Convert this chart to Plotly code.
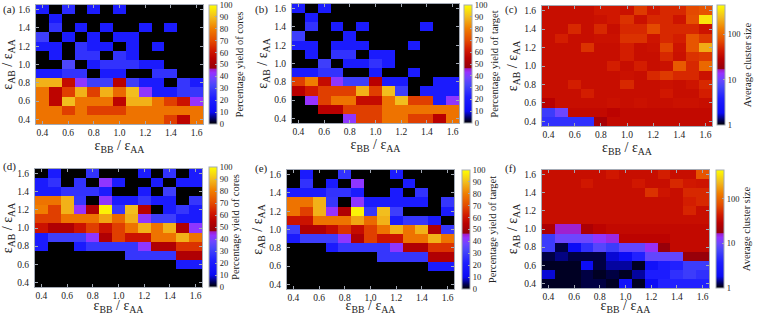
import plotly.graph_objects as go
import numpy as np

W, H = 761, 315

eps_bb = [0.4, 0.5, 0.6, 0.7, 0.8, 0.9, 1.0, 1.1, 1.2, 1.3, 1.4, 1.5, 1.6]
eps_ab = [1.6, 1.5, 1.4, 1.3, 1.2, 1.1, 1.0, 0.9, 0.8, 0.7, 0.6, 0.5, 0.4]
axis_ticks = [0.4, 0.6, 0.8, 1.0, 1.2, 1.4, 1.6]
yield_ticks = [0, 10, 20, 30, 40, 50, 60, 70, 80, 90, 100]
size_ticks = [1, 10, 100]

# (a) percentage yield of cores (rows: eps_AB 1.6 -> 0.4)
yield_cores_a = [
    [20, 0, 25, 0, 20, 0, 20, 0, 0, 0, 0, 0, 0],
    [0, 20, 0, 0, 0, 0, 0, 0, 0, 0, 0, 0, 0],
    [0, 27, 0, 20, 0, 20, 0, 0, 20, 0, 20, 0, 0],
    [30, 0, 20, 0, 20, 0, 20, 20, 0, 0, 0, 0, 0],
    [20, 20, 0, 27, 20, 20, 0, 20, 0, 20, 0, 0, 0],
    [0, 20, 0, 27, 27, 0, 27, 20, 0, 0, 0, 0, 0],
    [0, 0, 33, 0, 20, 27, 27, 27, 20, 20, 0, 0, 0],
    [20, 20, 27, 27, 0, 20, 20, 0, 0, 27, 27, 0, 0],
    [88, 88, 58, 42, 30, 30, 55, 30, 20, 20, 0, 28, 20],
    [78, 56, 68, 88, 68, 88, 76, 90, 42, 20, 20, 28, 28],
    [78, 56, 90, 78, 78, 78, 56, 88, 88, 78, 68, 60, 43],
    [78, 78, 68, 78, 68, 68, 68, 78, 78, 78, 78, 78, 78],
    [78, 78, 78, 78, 78, 78, 78, 78, 78, 78, 68, 56, 78],
]

# (b) percentage yield of target
yield_target_b = [
    [20, 0, 20, 0, 0, 0, 0, 0, 0, 0, 0, 0, 0],
    [0, 20, 0, 0, 0, 0, 0, 0, 0, 0, 0, 0, 0],
    [0, 27, 0, 20, 0, 20, 0, 0, 0, 0, 20, 0, 0],
    [30, 0, 0, 0, 20, 0, 0, 0, 0, 0, 0, 0, 0],
    [20, 20, 0, 20, 20, 20, 0, 0, 0, 20, 0, 0, 0],
    [0, 20, 0, 27, 27, 0, 20, 20, 0, 0, 0, 0, 0],
    [0, 0, 30, 0, 20, 20, 27, 20, 0, 0, 0, 0, 0],
    [20, 20, 27, 27, 0, 0, 20, 0, 0, 20, 0, 0, 0],
    [68, 80, 58, 42, 30, 30, 55, 20, 20, 0, 0, 20, 20],
    [55, 62, 68, 68, 68, 88, 68, 90, 30, 0, 20, 20, 20],
    [0, 43, 68, 78, 78, 58, 58, 78, 90, 68, 68, 20, 42],
    [0, 0, 55, 55, 68, 68, 68, 78, 78, 78, 78, 78, 78],
    [0, 0, 0, 0, 42, 68, 68, 78, 78, 68, 68, 55, 78],
]

# (c) average cluster size
cluster_size_c = [
    [36, 36, 36, 36, 42, 42, 38, 60, 42, 50, 50, 70, 80],
    [36, 36, 36, 36, 38, 42, 55, 38, 50, 50, 40, 75, 350],
    [36, 36, 50, 36, 50, 36, 50, 50, 70, 50, 50, 50, 40],
    [36, 45, 36, 36, 38, 38, 55, 55, 40, 50, 45, 80, 60],
    [36, 36, 36, 55, 36, 36, 45, 36, 38, 65, 40, 80, 200],
    [36, 36, 36, 36, 36, 36, 45, 36, 36, 50, 38, 55, 60],
    [36, 36, 36, 36, 36, 45, 36, 45, 36, 38, 85, 50, 100],
    [36, 36, 36, 36, 36, 36, 38, 36, 50, 60, 50, 50, 38],
    [36, 36, 45, 36, 36, 36, 50, 36, 36, 38, 36, 40, 50],
    [36, 36, 36, 45, 36, 36, 36, 36, 36, 42, 36, 36, 45],
    [28, 36, 36, 36, 36, 38, 36, 38, 36, 36, 38, 38, 36],
    [6, 10, 33, 33, 33, 30, 33, 33, 33, 33, 33, 33, 33],
    [5, 5, 5, 5, 22, 33, 33, 33, 33, 33, 33, 33, 33],
]

# (d) percentage yield of cores
yield_cores_d = [
    [0, 20, 0, 0, 27, 0, 0, 0, 20, 0, 27, 0, 20],
    [20, 27, 0, 27, 0, 42, 20, 0, 0, 20, 0, 20, 20],
    [20, 20, 27, 27, 27, 20, 0, 0, 20, 0, 30, 0, 0],
    [78, 78, 88, 28, 0, 42, 20, 20, 28, 20, 20, 0, 28],
    [80, 68, 88, 43, 53, 98, 28, 90, 55, 0, 20, 28, 20],
    [68, 68, 78, 78, 78, 86, 76, 88, 42, 30, 30, 20, 20],
    [60, 53, 53, 60, 68, 60, 68, 78, 88, 78, 88, 53, 42],
    [20, 30, 30, 30, 42, 53, 68, 60, 60, 78, 78, 88, 78],
    [20, 0, 0, 20, 28, 28, 28, 28, 42, 53, 53, 66, 66],
    [0, 0, 0, 0, 0, 0, 0, 28, 28, 28, 28, 53, 53],
    [0, 0, 0, 0, 0, 0, 0, 0, 0, 0, 0, 20, 20],
    [0, 0, 0, 0, 0, 0, 0, 0, 0, 0, 0, 0, 0],
    [0, 0, 0, 0, 0, 0, 0, 0, 0, 0, 0, 0, 0],
]

# (e) percentage yield of target
yield_target_e = [
    [0, 20, 0, 0, 27, 0, 0, 0, 20, 0, 0, 0, 0],
    [0, 27, 0, 20, 0, 42, 0, 0, 0, 20, 0, 0, 0],
    [20, 20, 20, 27, 27, 20, 0, 0, 20, 0, 27, 0, 0],
    [78, 78, 88, 28, 0, 42, 20, 20, 20, 20, 20, 0, 28],
    [78, 68, 88, 43, 53, 98, 28, 90, 30, 0, 0, 0, 20],
    [60, 60, 78, 78, 78, 86, 76, 88, 20, 28, 28, 20, 0],
    [30, 53, 53, 58, 66, 58, 68, 78, 88, 78, 88, 53, 28],
    [20, 30, 30, 30, 42, 53, 68, 60, 60, 78, 78, 88, 78],
    [0, 0, 0, 20, 28, 28, 28, 28, 42, 53, 53, 66, 66],
    [0, 0, 0, 0, 0, 0, 0, 28, 28, 28, 28, 53, 53],
    [0, 0, 0, 0, 0, 0, 0, 0, 0, 0, 0, 20, 20],
    [0, 0, 0, 0, 0, 0, 0, 0, 0, 0, 0, 0, 0],
    [0, 0, 0, 0, 0, 0, 0, 0, 0, 0, 0, 0, 0],
]

# (f) average cluster size
cluster_size_f = [
    [36, 36, 36, 36, 36, 42, 36, 36, 36, 45, 36, 36, 80],
    [36, 36, 36, 42, 36, 36, 36, 42, 36, 36, 50, 42, 40],
    [36, 36, 36, 36, 36, 36, 36, 36, 55, 40, 36, 50, 50],
    [36, 36, 36, 36, 36, 36, 36, 36, 36, 36, 36, 45, 50],
    [36, 36, 36, 36, 36, 36, 36, 36, 36, 36, 36, 48, 36],
    [36, 36, 36, 36, 36, 36, 36, 36, 36, 36, 36, 36, 36],
    [24, 16, 16, 24, 30, 33, 33, 33, 33, 33, 33, 33, 33],
    [6, 10, 10, 10, 13, 15, 30, 30, 30, 30, 33, 33, 33],
    [6, 1.2, 2, 5, 8, 6, 9, 9, 14, 18, 33, 33, 33],
    [1.2, 1.4, 1.2, 1.2, 1.2, 1.7, 2, 4, 9, 9, 9, 18, 18],
    [1.1, 1.1, 1.1, 2, 1.2, 1.5, 1.5, 1.1, 2.5, 3.5, 4, 6, 6],
    [1.7, 1.1, 1.1, 1.2, 1.1, 1.2, 1.1, 1.5, 3.5, 3.5, 5, 6, 5],
    [1.1, 1.1, 1.1, 1.2, 1.2, 1.1, 2.5, 1.1, 2, 4, 4, 4, 4],
]

cmap = [
    [0.00, "rgb(0,0,0)"],
    [0.04, "rgb(0,0,90)"],
    [0.10, "rgb(10,10,245)"],
    [0.22, "rgb(30,30,255)"],
    [0.32, "rgb(70,70,250)"],
    [0.38, "rgb(110,70,255)"],
    [0.43, "rgb(150,50,255)"],
    [0.46, "rgb(160,30,200)"],
    [0.47, "rgb(150,0,10)"],
    [0.55, "rgb(185,0,0)"],
    [0.62, "rgb(210,25,0)"],
    [0.70, "rgb(228,75,0)"],
    [0.80, "rgb(240,125,0)"],
    [0.90, "rgb(242,190,30)"],
    [1.00, "rgb(255,255,0)"],
]

FONT = "Liberation Serif, Times New Roman, serif"
FRAME = "#a3a9b4"
LOGMAX = 2.64

panels = [
    dict(lab="(a)", z=yield_cores_a, log=False, title="Percentage yield of cores",
         box=(36, 203, 5, 124), cb=(209, 5, 124), lab_xy=(1, 1), xs=2),
    dict(lab="(b)", z=yield_target_b, log=False, title="Percentage yield of target",
         box=(292, 459, 4, 123), cb=(464, 5, 123), lab_xy=(253, 1), xs=2),
    dict(lab="(c)", z=cluster_size_c, log=True, title="Average cluster size",
         box=(542, 712, 6, 126), cb=(717, 5, 125), lab_xy=(503, 1), xs=2),
    dict(lab="(d)", z=yield_cores_d, log=False, title="Percentage yield of cores",
         box=(35, 202, 169, 287), cb=(209, 167, 287), lab_xy=(1, 158), xs=4),
    dict(lab="(e)", z=yield_target_e, log=False, title="Percentage yield of target",
         box=(287, 454, 170, 289), cb=(462, 170, 289), lab_xy=(253, 160), xs=3),
    dict(lab="(f)", z=cluster_size_f, log=True, title="Average cluster size",
         box=(542, 709, 170, 288), cb=(716, 170, 288), lab_xy=(503, 160), xs=3),
]

fig = go.Figure()
annotations = []
for i, p in enumerate(panels, start=1):
    x0, x1, y0, y1 = p["box"]
    xa = "xaxis" if i == 1 else f"xaxis{i}"
    ya = "yaxis" if i == 1 else f"yaxis{i}"
    xr = "x" if i == 1 else f"x{i}"
    yr = "y" if i == 1 else f"y{i}"
    cbx, cby0, cby1 = p["cb"]
    if p["log"]:
        z = np.log10(np.array(p["z"], dtype=float))
        zmin, zmax = 0, LOGMAX
        tv = [float(np.log10(v)) for v in size_ticks]
        tt = [str(v) for v in size_ticks]
    else:
        z = np.array(p["z"], dtype=float)
        zmin, zmax = 0, 100
        tv = [v if v < 100 else 99.95 for v in yield_ticks]
        tt = [str(v) for v in yield_ticks]
    fig.add_trace(go.Heatmap(
        x=eps_bb, y=eps_ab, z=z, xaxis=xr, yaxis=yr,
        zmin=zmin, zmax=zmax, colorscale=cmap,
        colorbar=dict(
            x=cbx / W, xanchor="left", xref="paper",
            y=1 - (cby0 + cby1) / 2 / H, yanchor="middle", yref="paper",
            lenmode="pixels", len=cby1 - cby0,
            thicknessmode="pixels", thickness=8,
            xpad=0, ypad=0,
            outlinecolor=FRAME, outlinewidth=1,
            tickmode="array", tickvals=tv, ticktext=tt,
            ticks="inside", ticklen=2, tickcolor=FRAME,
            tickfont=dict(family=FONT, size=8.5, color="#222"),
            title=dict(text=p["title"], side="right",
                       font=dict(family=FONT, size=10.5, color="#222")),
        ),
        hoverinfo="skip",
    ))
    fig.layout[xa] = dict(
        domain=[x0 / W, x1 / W], anchor=yr, range=[0.35, 1.65],
        tickmode="array", tickvals=axis_ticks, tickformat=".1f",
        ticks="inside", ticklen=3, tickcolor=FRAME, mirror="ticks",
        showline=True, linecolor=FRAME, linewidth=1, showgrid=False, zeroline=False,
        tickfont=dict(family=FONT, size=9.5, color="#222"),
        automargin=False,
        title=dict(text="ε<sub>BB</sub> / ε<sub>AA</sub>", standoff=p["xs"],
                   font=dict(family=FONT, size=14, color="#222")),
        fixedrange=True,
    )
    fig.layout[ya] = dict(
        domain=[1 - y1 / H, 1 - y0 / H], anchor=xr, range=[0.35, 1.65],
        tickmode="array", tickvals=axis_ticks, tickformat=".1f",
        ticks="inside", ticklen=3, tickcolor=FRAME, mirror="ticks",
        showline=True, linecolor=FRAME, linewidth=1, showgrid=False, zeroline=False,
        tickfont=dict(family=FONT, size=9.5, color="#222"),
        ticklabelstandoff=3, automargin=False,
        title=dict(text="ε<sub>AB</sub> / ε<sub>AA</sub>", standoff=3,
                   font=dict(family=FONT, size=14, color="#222")),
        fixedrange=True,
    )
    lx, ly = p["lab_xy"]
    annotations.append(dict(
        text=p["lab"], x=lx / W, y=1 - ly / H, xref="paper", yref="paper",
        xanchor="left", yanchor="top", showarrow=False,
        font=dict(family=FONT, size=11, color="#222"),
    ))

fig.update_layout(
    width=W, height=H, autosize=False, template="none",
    margin=dict(l=0, r=0, t=0, b=0, pad=0, autoexpand=False),
    paper_bgcolor="white", plot_bgcolor="white",
    annotations=annotations, showlegend=False,
)

fig.write_html(
    "out.html",
    config={"displayModeBar": False},
    post_script="document.body.style.margin='0';document.body.style.padding='0';"
                "document.documentElement.style.overflow='hidden';",
)
